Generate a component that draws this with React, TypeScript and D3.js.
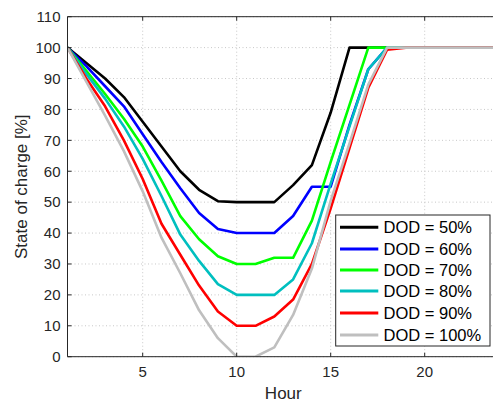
import React from "react";
import * as d3 from "d3";

const hours = d3.range(1, 25);
const labels = ["DOD = 50%", "DOD = 60%", "DOD = 70%", "DOD = 80%", "DOD = 90%", "DOD = 100%"];
const colors = ["#000000", "#0000ff", "#00ff00", "#00bfbf", "#ff0000", "#bfbfbf"];

const dod50 = [100, 95, 90, 84, 76, 68, 60, 54, 50.3, 50, 50, 50, 55.5, 62, 79, 100, 100, 100, 100, 100, 100, 100, 100, 100];
const dod60 = [100, 94, 87.5, 81, 72, 63, 54.5, 46.5, 41.3, 40, 40, 40, 45.5, 55, 55, 75, 93, 100, 100, 100, 100, 100, 100, 100];
const dod70 = [100, 92.5, 85, 77, 68, 57, 45.5, 38, 32.5, 30, 30, 32, 32, 44, 63, 81.5, 100, 100, 100, 100, 100, 100, 100, 100];
const dod80 = [100, 91.5, 83.5, 74.5, 64, 52, 39.5, 31, 23.5, 20, 20, 20, 25, 36.7, 56, 74.5, 93, 100, 100, 100, 100, 100, 100, 100];
const dod90 = [100, 90, 81, 70, 57.5, 43, 33, 23, 14.6, 10, 10, 13, 18.5, 30, 48, 67.5, 87, 99.3, 100, 100, 100, 100, 100, 100];
const dod100 = [100, 89, 78, 66.5, 53.5, 38.5, 27, 15, 6, 0, 0, 3, 13.5, 28.5, 50.5, 69, 88, 100, 100, 100, 100, 100, 100, 100];
const series = [dod50, dod60, dod70, dod80, dod90, dod100];

const xTicks = [5, 10, 15, 20];
const yTicks = d3.range(0, 111, 10);

const W = 493, H = 403;
const left = 67.5, top = 16.7, bottom = 356.7;
const right = left + 23 * 18.8;

export default function App() {
  const x = d3.scaleLinear().domain([1, 24]).range([left, right]);
  const y = d3.scaleLinear().domain([0, 110]).range([bottom, top]);
  const line = d3.line<number>().x((_, i) => x(hours[i])).y((d) => y(d));
  const font = "Liberation Sans, Arial, Helvetica, sans-serif";
  const txt = "#262626";
  const lg = { x0: 335.7, y0: 215, w: 154.3, h: 131, lx1: 340, lx2: 378.3, tx: 383.5, rows: [227.3, 249, 270, 291, 313, 335] };
  return (
    <svg width={W} height={H} style={{ position: "absolute", left: 0, top: 0, background: "#fff" }} fontFamily={font}>
      <defs>
        <clipPath id="plot">
          <rect x={left} y={top} width={right - left} height={bottom - top} />
        </clipPath>
      </defs>
      <rect x={0} y={0} width={W} height={H} fill="#fff" />
      {xTicks.map((t) => (
        <line key={"gx" + t} x1={x(t)} x2={x(t)} y1={top} y2={bottom} stroke="#c8c8c8" strokeWidth={1} strokeDasharray="1,2.5" />
      ))}
      {yTicks.map((t) => (
        <line key={"gy" + t} x1={left} x2={right} y1={y(t)} y2={y(t)} stroke="#c8c8c8" strokeWidth={1} strokeDasharray="1,2.5" />
      ))}
      <g clipPath="url(#plot)">
        {series.map((s, i) => (
          <path key={i} d={line(s) || ""} fill="none" stroke={colors[i]} strokeWidth={2.6} strokeLinejoin="round" />
        ))}
      </g>
      <line x1={left} x2={left} y1={top} y2={bottom} stroke={txt} strokeWidth={1} />
      <line x1={left} x2={right} y1={bottom} y2={bottom} stroke={txt} strokeWidth={1} />
      <line x1={left} x2={right} y1={top} y2={top} stroke={txt} strokeWidth={1} />
      <line x1={right} x2={right} y1={top} y2={bottom} stroke={txt} strokeWidth={1} />
      {xTicks.map((t) => (
        <g key={"tx" + t}>
          <line x1={x(t)} x2={x(t)} y1={bottom} y2={bottom - 4} stroke={txt} />
          <line x1={x(t)} x2={x(t)} y1={top} y2={top + 4} stroke={txt} />
          <text x={x(t)} y={bottom + 20} textAnchor="middle" fontSize={15} fill={txt}>{t}</text>
        </g>
      ))}
      {yTicks.map((t) => (
        <g key={"ty" + t}>
          <line x1={left} x2={left + 4} y1={y(t)} y2={y(t)} stroke={txt} />
          <line x1={right} x2={right - 4} y1={y(t)} y2={y(t)} stroke={txt} />
          <text x={left - 7} y={y(t) + 5.3} textAnchor="end" fontSize={15} fill={txt}>{t}</text>
        </g>
      ))}
      <text x={283.3} y={399} textAnchor="middle" fontSize={17} fill={txt}>Hour</text>
      <text transform={`translate(27,${(top + bottom) / 2}) rotate(-90)`} textAnchor="middle" fontSize={17} fill={txt}>State of charge [%]</text>
      <rect x={lg.x0} y={lg.y0} width={lg.w} height={lg.h} fill="#fff" stroke={txt} strokeWidth={1} />
      {labels.map((l, i) => (
        <g key={l}>
          <line x1={lg.lx1} x2={lg.lx2} y1={lg.rows[i]} y2={lg.rows[i]} stroke={colors[i]} strokeWidth={3} />
          <text x={lg.tx} y={lg.rows[i] + 6} fontSize={16.5} fill="#000">{l}</text>
        </g>
      ))}
    </svg>
  );
}
